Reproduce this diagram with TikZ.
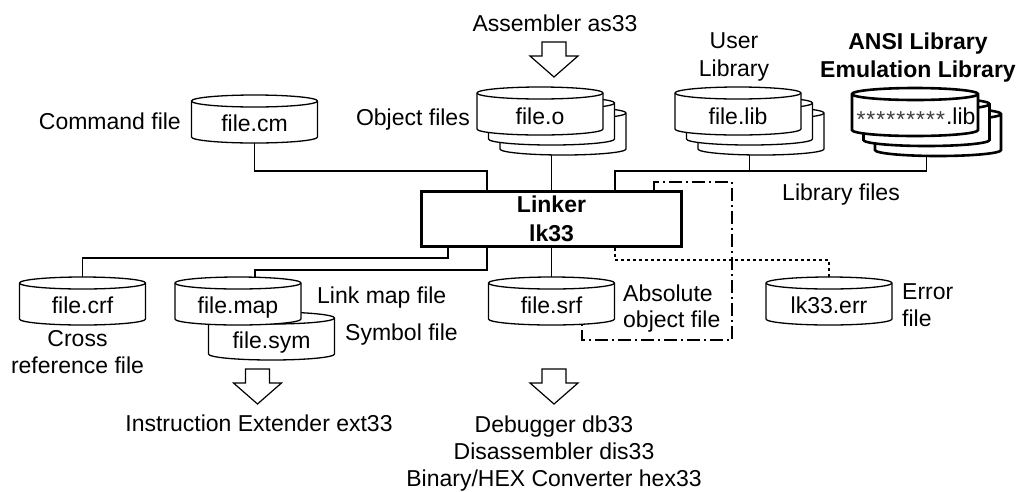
\documentclass[tikz,border=0pt]{standalone}
\usepackage{fontspec}
\setmainfont{Liberation Sans}
\tikzset{
  drumline/.style={line width=1.3pt, fill=white},
  ansiline/.style={line width=2.6pt},
  conn/.style={line width=1.2pt},
  dotconn/.style={line width=1.2pt, dash pattern=on 3pt off 3pt},
  dashdotconn/.style={line width=1.2pt, dash pattern=on 13pt off 4pt on 2pt off 4pt},
  lbl/.style={inner sep=0pt, anchor=base},
  linkerbox/.style={draw, line width=3.5pt, fill=white, minimum width=260pt, minimum height=55pt,
     align=center, font=\fontsize{23}{29}\selectfont\bfseries, inner sep=0pt},
  hollow/.style={line width=1.2pt, fill=white, line join=miter},
}
% cylinder: [style]{name}{cx}{cy}  (cy measured downwards)
\newcommand{\drumshape}[4][]{%
  \begin{scope}[shift={(#3,-#4)}]
    \filldraw[drumline,#1] (-63,18) arc[start angle=180,end angle=0,x radius=63,y radius=6]
       -- (63,-18) arc[start angle=0,end angle=-180,x radius=63,y radius=6] -- cycle;
    \draw[drumline,#1] (-63,18) arc[start angle=180,end angle=360,x radius=63,y radius=6];
    \coordinate (#2-top) at (0,24);
    \coordinate (#2-bot) at (0,-24);
  \end{scope}}
% hollow down arrow: {cx}{ytop}
\newcommand{\hollowdown}[2]{%
  \draw[hollow] (#1-12,-#2) -- (#1+12,-#2) -- (#1+12,-#2-14) -- (#1+24,-#2-14)
     -- (#1,-#2-35) -- (#1-24,-#2-14) -- (#1-12,-#2-14) -- cycle;}
\newcommand{\starrow}{\raisebox{-3.5pt}{\color{black!75}*\kern1pt*\kern1pt*\kern1pt*\kern1pt*\kern1pt*\kern1pt*\kern1pt*\kern1pt*\kern1pt}}
\begin{document}
\begin{tikzpicture}[x=1pt,y=1pt,font=\fontsize{23}{28}\selectfont]
\useasboundingbox (0,0) rectangle (1019,-491);

% ---------- linker ----------
\node[linkerbox] (linker) at (551.5,-219) {Linker\\lk33};

% ---------- top cylinders ----------
\drumshape{cm}{254.5}{119}
\node[lbl] (cmtxt) at (254.5,-131.5) {file.cm};

\drumshape{obj3}{563}{131}
\drumshape{obj2}{551.5}{121}
\drumshape{obj1}{540}{111}
\node[lbl] (objtxt) at (540,-124) {file.o};

\drumshape{ulib3}{761}{131}
\drumshape{ulib2}{749.5}{121}
\drumshape{ulib1}{738}{111}
\node[lbl] (ulibtxt) at (738,-124) {file.lib};

\drumshape[ansiline]{ansi3}{938}{132}
\drumshape[ansiline]{ansi2}{926.5}{122}
\drumshape[ansiline]{ansi1}{915}{112}
\node[lbl] (ansitxt) at (916,-124) {\starrow.lib};

% ---------- bottom cylinders ----------
\drumshape{crf}{82.5}{301}
\node[lbl] (crftxt) at (82.5,-313.3) {file.crf};
\drumshape{sym}{271.5}{336}
\node[lbl] (symtxt) at (271.5,-348) {file.sym};
\drumshape{map}{238}{301}
\node[lbl] (maptxt) at (238,-313.3) {file.map};
\drumshape{srf}{551.5}{301}
\node[lbl] (srftxt) at (551.5,-313.3) {file.srf};
\drumshape{err}{829}{301}
\node[lbl] (errtxt) at (829,-313.3) {lk33.err};

% ---------- connectors above linker ----------
\coordinate (j1) at (487,-171);
\draw[conn] (cm-bot) |- (j1) -- (j1 |- linker.north);
\draw[conn] (obj3-bot -| linker.north) -- (linker.north);
\coordinate (j2) at (615,-171);
\draw[conn] (ansi3-bot -| ansi2-bot) |- (j2) -- (j2 |- linker.north);
\draw[conn] (ulib3-bot -| ulib2-bot) -- (ulib2-bot |- j2);

% ---------- connectors below linker ----------
\coordinate (j3) at (448,-258);
\draw[conn] (j3 |- linker.south) -- (j3) -| (crf-top);
\coordinate (j4) at (487,-270);
\coordinate (j4b) at (255,-270);
\draw[conn] (j4 |- linker.south) -- (j4) -- (j4b) -- (j4b |- map-top);
\draw[conn] (linker.south) -- (srf-top);
\coordinate (j5) at (615,-260);
\draw[dotconn] (j5 |- linker.south) -- (j5) -| (err-top);
\coordinate (d1) at (654,-182);
\coordinate (d2) at (732,-340);
\coordinate (d3) at (582,-340);
\draw[dashdotconn] (d1 |- linker.north) -- (d1) -| (d2) -- (d3) -- (d3 |- srf-bot);

% ---------- hollow arrows ----------
\hollowdown{554}{42}
\hollowdown{257.5}{369}
\hollowdown{554}{369}

% ---------- labels ----------
\node[lbl, anchor=base east] (cmdlbl) at (181,-129.5) {Command file};
\node[lbl, anchor=base east] (objlbl) at (470,-125) {Object files};
\node[lbl] (asmlbl) at (555,-31.7) {Assembler as33};
\node[inner sep=0pt, anchor=north, align=center] (ulibl) at (734,-32.5) {User\\Library};
\node[inner sep=0pt, anchor=north, align=center, font=\fontsize{23}{28}\selectfont\bfseries] (ansil) at (918,-32.5) {ANSI Library\\Emulation Library};
\node[lbl, anchor=base west] (libfiles) at (782,-200) {Library files};
\node[lbl, anchor=base west] (maplbl) at (317,-303) {Link map file};
\node[lbl, anchor=base west] (symlbl) at (345,-340) {Symbol file};
\node[inner sep=0pt, anchor=north, align=center, font=\fontsize{23}{27.5}\selectfont] (crflbl) at (77.5,-330.2) {Cross\\reference file};
\node[inner sep=0pt, anchor=north west, align=left, font=\fontsize{23}{26.5}\selectfont] (srflbl) at (623,-284.5) {Absolute\\object file};
\node[inner sep=0pt, anchor=north west, align=left, font=\fontsize{23}{27}\selectfont] (errlbl) at (902,-283) {Error\\file};
\node[lbl] (extlbl) at (259,-431.7) {Instruction Extender ext33};
\node[inner sep=0pt, anchor=north, align=center, font=\fontsize{23}{27.2}\selectfont] (dbglbl) at (554,-415.2) {Debugger db33\\Disassembler dis33\\Binary/HEX Converter hex33};
\end{tikzpicture}
\end{document}
